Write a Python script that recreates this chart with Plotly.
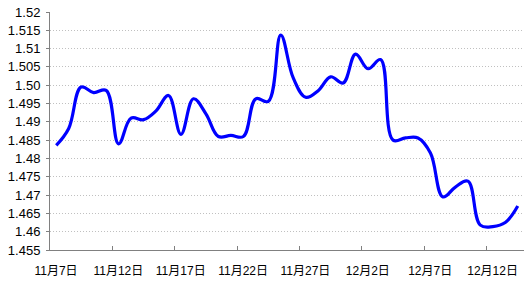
import plotly.graph_objects as go
import pandas as pd

# Daily dates (11月7日 .. 12月14日)
dates = pd.date_range("2010-11-07", "2010-12-14", freq="D")

# Values
values = [
    1.4836, 1.4882, 1.4995, 1.4980, 1.4986, 1.4840, 1.4910, 1.4906,
    1.4930, 1.4972, 1.4866, 1.4963, 1.4922, 1.4860, 1.4863, 1.4860,
    1.4963, 1.4956, 1.5137, 1.5020, 1.4967, 1.4985, 1.5023, 1.5006,
    1.5085, 1.5045, 1.5070, 1.4850, 1.4856, 1.4856, 1.4815, 1.4695,
    1.4722, 1.4738, 1.4618, 1.4614, 1.4625, 1.4670,
]

tick_dates = ["2010-11-07", "2010-11-12", "2010-11-17", "2010-11-22",
              "2010-11-27", "2010-12-02", "2010-12-07", "2010-12-12"]
tick_labels = ["11月7日", "11月12日", "11月17日", "11月22日",
               "11月27日", "12月2日", "12月7日", "12月12日"]

y_ticks = [1.455, 1.46, 1.465, 1.47, 1.475, 1.48, 1.485, 1.49, 1.495,
           1.50, 1.505, 1.51, 1.515, 1.52]
y_labels = ["1.455", "1.46", "1.465", "1.47", "1.475", "1.48", "1.485",
            "1.49", "1.495", "1.50", "1.505", "1.51", "1.515", "1.52"]

half_day = pd.Timedelta(hours=12)
tick_pos = [pd.Timestamp(d) - half_day for d in tick_dates]

fig = go.Figure()
fig.add_trace(go.Scatter(
    x=dates, y=values, mode="lines",
    line=dict(color="#0000ff", width=3.2, shape="spline", smoothing=1.1),
    hoverinfo="skip",
))

fig.update_layout(
    width=529, height=283,
    margin=dict(l=50, r=5, t=10, b=31),
    paper_bgcolor="white", plot_bgcolor="white",
    showlegend=False,
    font=dict(family="Liberation Sans, Arial, Noto Sans CJK SC", color="#000000"),
)

fig.update_xaxes(
    type="date",
    range=[dates[0] - half_day, dates[-1] + half_day],
    tickvals=tick_pos, ticktext=tick_labels,
    ticks="inside", ticklen=4, tickcolor="#808080", tickwidth=1,
    ticklabelshift=6, ticklabelstandoff=10,
    tickfont=dict(size=12, family="Liberation Sans, Noto Sans CJK SC"),
    showline=True, linecolor="#808080", linewidth=1,
    showgrid=False, zeroline=False,
)

fig.update_yaxes(
    range=[1.455, 1.52],
    tickvals=y_ticks, ticktext=y_labels,
    ticks="outside", ticklen=3, tickcolor="#808080", tickwidth=1,
    tickfont=dict(size=13, family="Liberation Sans"),
    showline=True, linecolor="#808080", linewidth=1,
    showgrid=True, gridcolor="#c0c0c0", griddash="1px,2px", gridwidth=1,
    zeroline=False, ticklabelstandoff=3,
)

fig.write_html("out.html")
